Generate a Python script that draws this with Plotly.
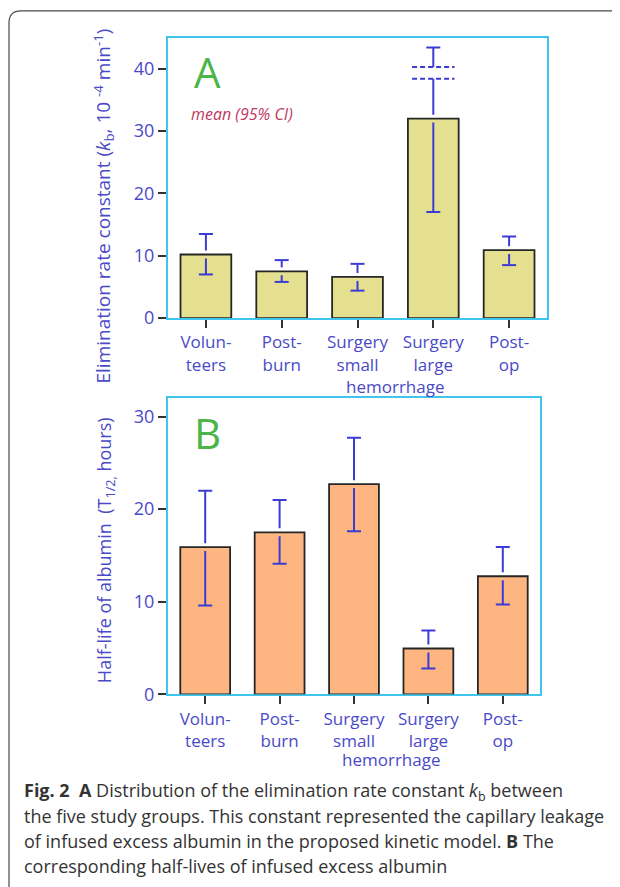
import plotly.graph_objects as go

# ---------------- data ----------------
categories = ["Volun-<br>teers", "Post-<br>burn", "Surgery<br>small", "Surgery<br>large", "Post-<br>op"]
group_note = "hemorrhage"

# Panel A: elimination rate constant kb (10^-4 min^-1), mean with 95% CI
kb_mean = [10.2, 7.5, 6.6, 32.0, 10.9]
kb_low = [7.0, 5.8, 4.4, 17.0, 8.5]
kb_high = [13.5, 9.3, 8.7, 43.4, 13.1]
kb_break_index = 3
kb_break_low = 38.4
kb_break_high = 40.3

# Panel B: half-life of albumin (hours), mean with 95% CI
t_mean = [15.9, 17.5, 22.7, 4.95, 12.75]
t_low = [9.6, 14.1, 17.6, 2.8, 9.7]
t_high = [22.0, 21.0, 27.7, 6.9, 15.9]

yA_ticks = [0, 10, 20, 30, 40]
yB_ticks = [0, 10, 20, 30]

# ---------------- style ----------------
PAGE_OFF = 8               # browser default body margin
W, H = 620 - PAGE_OFF, 887 - PAGE_OFF
FONT = "Open Sans"
CYAN = "#3fc6ee"
BLUE_TXT = "#4a4ac8"
ERR = "#3c3cd4"
FILL_A = "#e5df90"
FILL_B = "#fdb582"
OUT = "#262626"
GREEN = "#4cb448"


def px_x(p):
    return (p - PAGE_OFF) / W


def px_y(p):
    return 1 - (p - PAGE_OFF) / H


# plot boxes in page pixels
A_box = dict(l=168, r=547, t=38, b=322)
B_box = dict(l=168, r=540, t=403, b=703)
A_range = [0, 45]
B_range = [0, 32]

idx = list(range(len(categories)))
fig = go.Figure()


def add_panel(xa, ya, means, lows, highs, fill, box, yrange, brk=None):
    gap = 4 * (yrange[1] - yrange[0]) / (box["b"] - box["t"])
    fig.add_trace(go.Bar(
        x=idx, y=means, width=0.67, xaxis=xa, yaxis=ya,
        marker=dict(color=fill, line=dict(color=OUT, width=1.8)),
        showlegend=False, hoverinfo="skip"))
    lx, ly = [], []
    for i, (m, lo, hi) in enumerate(zip(means, lows, highs)):
        if brk is not None and i == brk[0]:
            lx += [i, i, None, i, i, None]
            ly += [hi, brk[2], None, brk[1], m + gap, None]
        else:
            lx += [i, i, None]
            ly += [hi, m + gap, None]
        lx += [i, i, None]
        ly += [m - gap, lo, None]
    fig.add_trace(go.Scatter(x=lx, y=ly, mode="lines", xaxis=xa, yaxis=ya,
                             line=dict(color=ERR, width=2), showlegend=False,
                             hoverinfo="skip"))
    fig.add_trace(go.Scatter(x=idx + idx, y=list(highs) + list(lows), mode="markers",
                             xaxis=xa, yaxis=ya,
                             marker=dict(symbol="line-ew", size=10,
                                         line=dict(color=ERR, width=2)),
                             showlegend=False, hoverinfo="skip"))
    if brk is not None:
        for yv in (brk[1], brk[2]):
            fig.add_trace(go.Scatter(x=[brk[0] - 0.28, brk[0] + 0.28], y=[yv, yv],
                                     mode="lines", xaxis=xa, yaxis=ya,
                                     line=dict(color=ERR, width=2, dash="5px,3px"),
                                     showlegend=False, hoverinfo="skip"))


add_panel("x", "y", kb_mean, kb_low, kb_high, FILL_A, A_box, A_range,
          brk=(kb_break_index, kb_break_low, kb_break_high))
add_panel("x2", "y2", t_mean, t_low, t_high, FILL_B, B_box, B_range)


def xaxis_cfg(box):
    return dict(domain=[px_x(box["l"]), px_x(box["r"])], range=[-0.5, 4.5],
                tickvals=idx, ticktext=categories, ticks="outside", ticklen=8,
                tickwidth=1.6, tickcolor="#333333", showline=True, linecolor=CYAN,
                linewidth=2, mirror=True, showgrid=False, zeroline=False,
                ticklabelstandoff=0, layer="below traces",
                tickfont=dict(family=FONT, size=17, color=BLUE_TXT), fixedrange=True)


def yaxis_cfg(box, yrange, ticks):
    return dict(domain=[px_y(box["b"]), px_y(box["t"])], range=yrange,
                tickvals=ticks, ticks="outside", ticklen=8, tickwidth=1.6,
                tickcolor="#333333", showline=True, linecolor=CYAN, linewidth=2,
                mirror=True, showgrid=False, zeroline=False,
                tickfont=dict(family=FONT, size=18, color=BLUE_TXT), fixedrange=True)


def note(text, x, y, size, color, xref="paper", xanchor="center", angle=0, **kw):
    return dict(text=text, xref=xref, yref="paper", x=x, y=y, xanchor=xanchor,
                yanchor="middle", textangle=angle, showarrow=False,
                font=dict(family=FONT, size=size, color=color), **kw)


annotations = [
    note("Elimination rate constant (<i>k</i><sub>b</sub>, 10 <sup>-4</sup> min<sup>-1</sup>)",
         px_x(104), px_y(209), 19, BLUE_TXT, angle=-90),
    note("Half-life of albumin&nbsp; (T<sub>1/2,</sub> hours)",
         px_x(105), px_y(557), 18, BLUE_TXT, angle=-90),
    note("A", px_x(207), px_y(72), 42, GREEN),
    note("B", px_x(207), px_y(438), 42, GREEN),
    note("<i>mean (95% CI)</i>", px_x(189), px_y(115), 16, "#c0395f", xanchor="left"),
    note(group_note, 2.5, px_y(391), 17, BLUE_TXT, xref="x"),
    note(group_note, 2.5, px_y(769), 17, BLUE_TXT, xref="x2"),
]

caption_lines = [
    "<b>Fig. 2</b>&nbsp; <b>A</b> Distribution of the elimination rate constant <i>k</i><sub>b</sub> between",
    "the five study groups. This constant represented the capillary leakage",
    "of infused excess albumin in the proposed kinetic model. <b>B</b> The",
    "corresponding half-lives of infused excess albumin",
]
for k, line in enumerate(caption_lines):
    annotations.append(note(line, px_x(22), px_y(801 + 25.3 * k), 18, "#333333",
                            xanchor="left"))

# outer frame with rounded top-left corner
r = 12
x0, y0 = px_x(9), px_y(11)
frame_path = (f"M {x0},{px_y(900)} L {x0},{px_y(11 + r)} "
              f"Q {x0},{y0} {px_x(9 + r)},{y0} L {px_x(640)},{y0}")

fig.update_layout(
    width=W, height=H, margin=dict(l=0, r=0, t=0, b=0),
    paper_bgcolor="white", plot_bgcolor="white", showlegend=False,
    xaxis=xaxis_cfg(A_box), yaxis=yaxis_cfg(A_box, A_range, yA_ticks),
    xaxis2=dict(xaxis_cfg(B_box), anchor="y2"),
    yaxis2=dict(yaxis_cfg(B_box, B_range, yB_ticks), anchor="x2"),
    annotations=annotations,
    shapes=[dict(type="path", path=frame_path, xref="paper", yref="paper",
                 line=dict(color="#4a4a4a", width=1.2))],
)
fig.write_html("out.html")
